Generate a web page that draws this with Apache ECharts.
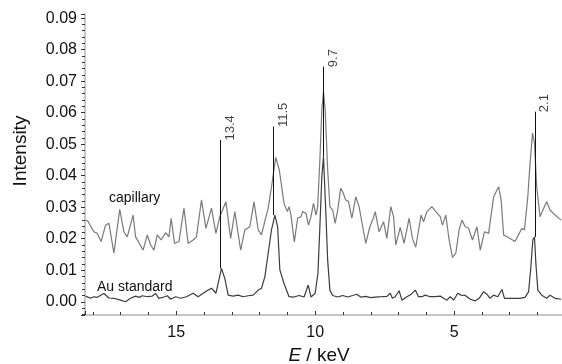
<!DOCTYPE html>
<html>
<head>
<meta charset="utf-8">
<script src="https://cdn.jsdelivr.net/npm/echarts@6/dist/echarts.min.js"></script>
<style>
html,body{margin:0;padding:0;background:#fff;}
#chart{width:562px;height:364px;}
</style>
</head>
<body>
<div id="chart"></div>
<script>
// Energy (keV) and intensity for the capillary spectrum
const capE = [18.26,18.18,17.96,17.84,17.70,17.54,17.42,17.24,17.03,16.88,16.76,16.55,16.46,16.40,16.19,16.04,15.92,15.80,15.68,15.54,15.38,15.26,15.18,15.06,14.90,14.72,14.57,14.39,14.27,14.09,13.93,13.73,13.57,13.43,13.21,13.04,12.89,12.68,12.53,12.35,12.20,12.05,11.93,11.77,11.69,11.57,11.42,11.29,11.12,11.00,10.94,10.87,10.75,10.63,10.51,10.45,10.33,10.24,10.15,10.06,9.97,9.91,9.83,9.76,9.70,9.64,9.55,9.47,9.37,9.28,9.19,9.08,9.01,8.90,8.80,8.68,8.54,8.42,8.29,8.18,8.03,7.91,7.84,7.70,7.54,7.42,7.28,7.18,7.10,6.94,6.80,6.62,6.50,6.38,6.19,6.10,5.98,5.80,5.66,5.50,5.42,5.30,5.18,5.06,4.94,4.82,4.72,4.60,4.48,4.34,4.18,4.06,3.91,3.76,3.58,3.40,3.31,3.22,3.10,2.99,2.81,2.66,2.56,2.47,2.35,2.27,2.18,2.11,2.03,1.91,1.78,1.67,1.55,1.37,1.15];
const capI = [0.0259,0.0256,0.0222,0.0217,0.0191,0.0243,0.0249,0.0154,0.0293,0.0222,0.0206,0.0275,0.0206,0.0212,0.0164,0.0212,0.0180,0.0164,0.0212,0.0196,0.0219,0.0206,0.0265,0.0185,0.0191,0.0297,0.0185,0.0196,0.0206,0.0323,0.0233,0.0297,0.0217,0.0270,0.0317,0.0201,0.0286,0.0164,0.0228,0.0238,0.0317,0.0228,0.0212,0.0270,0.0297,0.0365,0.0458,0.0418,0.0312,0.0286,0.0302,0.0275,0.0190,0.0265,0.0270,0.0286,0.0281,0.0243,0.0270,0.0312,0.0275,0.0302,0.0450,0.0609,0.0667,0.0609,0.0418,0.0302,0.0291,0.0249,0.0291,0.0360,0.0349,0.0323,0.0318,0.0265,0.0333,0.0302,0.0238,0.0185,0.0238,0.0265,0.0286,0.0222,0.0254,0.0201,0.0302,0.0270,0.0180,0.0236,0.0185,0.0265,0.0201,0.0173,0.0275,0.0254,0.0286,0.0302,0.0286,0.0270,0.0243,0.0275,0.0196,0.0141,0.0154,0.0228,0.0259,0.0238,0.0233,0.0196,0.0238,0.0164,0.0222,0.0217,0.0333,0.0365,0.0323,0.0212,0.0206,0.0201,0.0191,0.0217,0.0233,0.0228,0.0333,0.0439,0.0535,0.0503,0.0365,0.0270,0.0297,0.0317,0.0291,0.0275,0.0259];

// Energy (keV) and intensity for the Au standard spectrum
const auE = [18.26,18.08,17.96,17.84,17.60,17.42,17.24,17.00,16.82,16.64,16.46,16.34,16.22,16.04,15.86,15.74,15.62,15.44,15.32,15.20,15.02,14.84,14.63,14.39,14.21,14.03,13.85,13.73,13.57,13.49,13.37,13.25,13.13,12.95,12.77,12.59,12.41,12.23,12.05,11.93,11.81,11.69,11.57,11.45,11.35,11.27,11.12,10.94,10.76,10.58,10.40,10.25,10.15,10.00,9.90,9.83,9.76,9.70,9.61,9.55,9.47,9.37,9.19,9.01,8.83,8.65,8.51,8.36,8.18,8.00,7.84,7.78,7.60,7.42,7.30,7.22,7.12,6.98,6.88,6.70,6.54,6.40,6.28,6.16,6.04,5.86,5.68,5.50,5.38,5.26,5.14,5.02,4.87,4.75,4.60,4.42,4.24,4.10,3.94,3.82,3.71,3.58,3.43,3.28,3.19,2.99,2.81,2.63,2.45,2.32,2.24,2.17,2.11,2.06,1.99,1.85,1.67,1.55,1.37,1.15];
const auI = [0.0018,0.0011,0.0016,0.0014,0.0026,0.0012,0.0011,0.0005,0.0000,0.0011,0.0018,0.0014,0.0019,0.0016,0.0018,0.0026,0.0011,0.0015,0.0019,0.0008,0.0016,0.0011,0.0016,0.0027,0.0016,0.0027,0.0037,0.0043,0.0027,0.0058,0.0106,0.0074,0.0021,0.0018,0.0021,0.0016,0.0019,0.0021,0.0037,0.0043,0.0079,0.0154,0.0228,0.0275,0.0238,0.0101,0.0058,0.0016,0.0015,0.0020,0.0015,0.0053,0.0015,0.0027,0.0090,0.0238,0.0397,0.0460,0.0270,0.0132,0.0037,0.0020,0.0015,0.0020,0.0015,0.0020,0.0024,0.0015,0.0017,0.0013,0.0015,0.0021,0.0016,0.0017,0.0027,0.0011,0.0016,0.0035,0.0005,0.0016,0.0024,0.0037,0.0016,0.0016,0.0021,0.0016,0.0016,0.0018,0.0011,0.0005,0.0016,0.0005,0.0027,0.0021,0.0020,0.0008,0.0003,0.0011,0.0032,0.0024,0.0011,0.0021,0.0016,0.0039,0.0011,0.0011,0.0011,0.0011,0.0014,0.0032,0.0111,0.0196,0.0206,0.0122,0.0037,0.0021,0.0011,0.0021,0.0011,0.0008];

// Peak markers
const peakE = [13.4, 11.5, 9.7, 2.1];
const peakLabels = ['13.4', '11.5', '9.7', '2.1'];
const peakBottom = [0.0106, 0.0275, 0.0460, 0.0206];
const peakTop = [0.0513, 0.0556, 0.0746, 0.0603];

// Axis
const xMin = 1.12, xMax = 18.28;
const yMin = -0.0042, yMax = 0.0913;
const seriesNames = ['capillary', 'Au standard'];

const FONT = 'Liberation Sans, Arial, Helvetica, sans-serif';
const chart = echarts.init(document.getElementById('chart'), null, {renderer: 'canvas'});

const capData = capE.map((e, i) => [e, capI[i]]);
const auData = auE.map((e, i) => [e, auI[i]]);
const markData = peakE.map((e, i) => [{coord: [e, peakBottom[i]]}, {coord: [e, peakTop[i]]}]);
const labelData = peakE.map((e, i) => ({value: [e, peakTop[i]], name: peakLabels[i]}));

chart.setOption({
  animation: false,
  backgroundColor: '#fff',
  grid: {left: 85, right: 0, top: 14, bottom: 49, containLabel: false, outerBoundsMode: 'none'},
  xAxis: {
    type: 'value', inverse: true, min: xMin, max: xMax,
    minInterval: 5, maxInterval: 5, splitNumber: 3,
    name: '{i|E} / keV', nameLocation: 'middle', nameGap: 30,
    nameTextStyle: {fontFamily: FONT, fontSize: 19, color: '#111', padding: [0, 9, 0, 0],
      rich: {i: {fontStyle: 'italic', fontFamily: FONT, fontSize: 19, color: '#111'}}},
    axisLine: {show: true, onZero: false, lineStyle: {color: '#c8c8c8', width: 2}},
    axisTick: {show: true, inside: true, length: 4, lineStyle: {color: '#333', width: 1}},
    minorTick: {show: true, splitNumber: 5, length: 3, lineStyle: {color: '#333', width: 1}},
    axisLabel: {show: true, margin: 10, fontFamily: FONT, fontSize: 16, color: '#111',
      showMinLabel: false, showMaxLabel: false},
    splitLine: {show: false}
  },
  yAxis: {
    type: 'value', min: yMin, max: yMax,
    minInterval: 0.01, maxInterval: 0.01, splitNumber: 10,
    name: 'Intensity', nameLocation: 'middle', nameGap: 55,
    nameTextStyle: {fontFamily: FONT, fontSize: 19, color: '#111', padding: [0, 0, 0, 27]},
    axisLine: {show: true, onZero: false, lineStyle: {color: '#c8c8c8', width: 2}},
    axisTick: {show: true, inside: false, length: 4, lineStyle: {color: '#333', width: 1}},
    minorTick: {show: true, splitNumber: 5, length: 3, lineStyle: {color: '#333', width: 1}},
    axisLabel: {show: true, margin: 8, fontFamily: FONT, fontSize: 16, color: '#111',
      showMinLabel: false, showMaxLabel: false,
      formatter: v => v.toFixed(2)},
    splitLine: {show: false}
  },
  graphic: [
    {type: 'text', left: 109, top: 191, style: {text: seriesNames[0], fontFamily: FONT, fontSize: 14, fill: '#111'}},
    {type: 'text', left: 97, top: 280, style: {text: seriesNames[1], fontFamily: FONT, fontSize: 14, fill: '#111'}}
  ],
  series: [
    {
      name: seriesNames[0], type: 'line', data: capData, showSymbol: false, symbol: 'none',
      lineStyle: {color: '#7a7a7a', width: 1.2}, z: 2
    },
    {
      name: seriesNames[1], type: 'line', data: auData, showSymbol: false, symbol: 'none',
      lineStyle: {color: '#3c3c3c', width: 1.2}, z: 3,
      markLine: {
        silent: true, symbol: ['none', 'none'], animation: false,
        lineStyle: {color: '#111', width: 1, type: 'solid'},
        label: {show: false},
        data: markData
      }
    },
    {
      name: 'peaks', type: 'scatter', data: labelData, symbolSize: 1,
      itemStyle: {color: 'rgba(0,0,0,0)'}, z: 4, silent: true,
      label: {show: true, formatter: p => p.name, rotate: 90, position: [4, 1],
        align: 'left', verticalAlign: 'top',
        fontFamily: FONT, fontSize: 13, color: '#111'}
    }
  ]
});
</script>
</body>
</html>
